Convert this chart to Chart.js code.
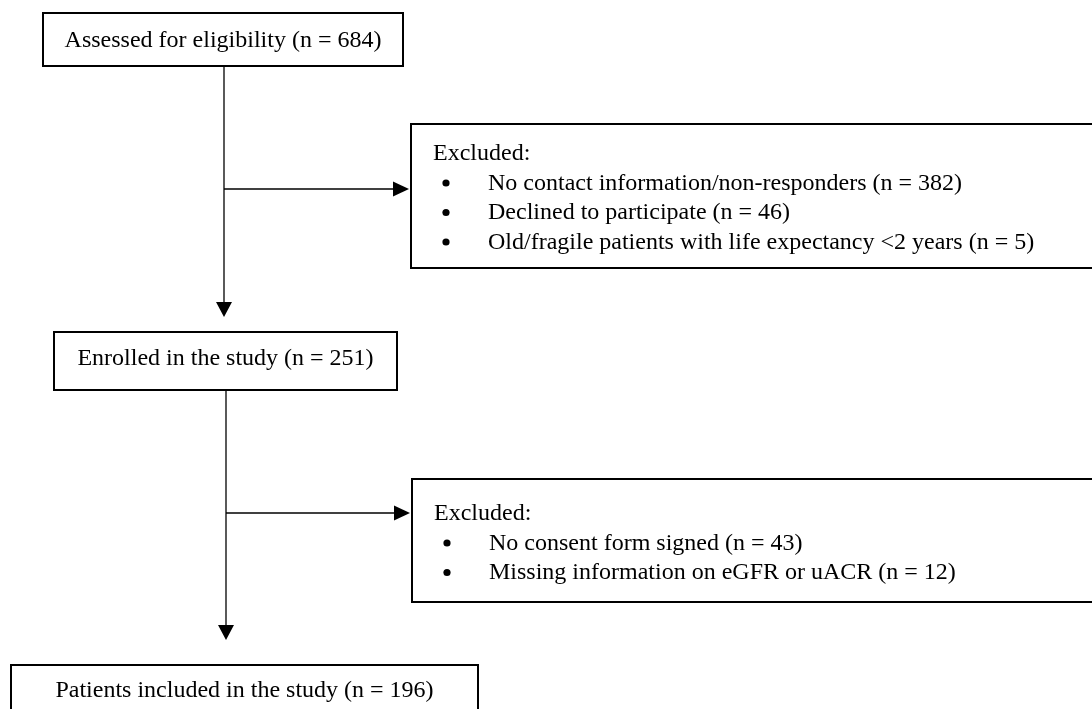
<!DOCTYPE html>
<html>
<head>
<meta charset="utf-8">
<script src="https://cdn.jsdelivr.net/npm/chart.js@4.4.1/dist/chart.umd.min.js"></script>
<style>
  html, body { margin: 0; padding: 0; background: #ffffff; }
  #wrap { width: 1092px; height: 709px; position: relative; }
</style>
</head>
<body>
<div id="wrap"><canvas id="c" width="1092" height="709"></canvas></div>
<script>
// ---- data ----
const stageLabels = ['Assessed for eligibility', 'Enrolled in the study', 'Patients included in the study'];
const stageCounts = [684, 251, 196];
const exclusionHeader = 'Excluded:';
const exclusion1Reasons = ['No contact information/non-responders', 'Declined to participate', 'Old/fragile patients with life expectancy <2 years'];
const exclusion1Counts = [382, 46, 5];
const exclusion2Reasons = ['No consent form signed', 'Missing information on eGFR or uACR'];
const exclusion2Counts = [43, 12];

// ---- layout (value space of hidden axes) ----
const stageBoxes = [
  { x0: 43, y0: 13, x1: 403, y1: 66, base: 47 },
  { x0: 54, y0: 332, x1: 397, y1: 390, base: 365 },
  { x0: 11, y0: 665, x1: 478, y1: 730, base: 697 }
];
const exclBoxes = [
  { x0: 411, y0: 124, x1: 1110, y1: 268, headBase: 160, lineGap: 29.5, arrowY: 189 },
  { x0: 412, y0: 479, x1: 1110, y1: 602, headBase: 520, lineGap: 29.5, arrowY: 513 }
];
const trunk = [
  { x: 224, from: 66, to: 317 },
  { x: 226, from: 390, to: 640 }
];

const fmt = (label, n) => `${label} (n = ${n})`;

const flowPlugin = {
  id: 'flow',
  afterDraw(chart) {
    const ctx = chart.ctx;
    const xs = chart.scales.x, ys = chart.scales.y;
    const X = v => xs.getPixelForValue(v);
    const Y = v => ys.getPixelForValue(v);
    ctx.save();
    ctx.fillStyle = '#000';
    ctx.strokeStyle = '#000';
    const font = '24px "Liberation Serif", "Times New Roman", serif';

    function box(b, lw) {
      ctx.lineWidth = lw;
      ctx.strokeRect(X(b.x0), Y(b.y0), X(b.x1) - X(b.x0), Y(b.y1) - Y(b.y0));
    }
    function arrowDown(x, y0, y1) {
      ctx.lineWidth = 1.3;
      ctx.beginPath();
      ctx.moveTo(X(x), Y(y0));
      ctx.lineTo(X(x), Y(y1) - 14);
      ctx.stroke();
      ctx.beginPath();
      ctx.moveTo(X(x), Y(y1));
      ctx.lineTo(X(x) - 8, Y(y1) - 15);
      ctx.lineTo(X(x) + 8, Y(y1) - 15);
      ctx.closePath();
      ctx.fill();
    }
    function arrowRight(x0, x1, y) {
      ctx.lineWidth = 1.3;
      ctx.beginPath();
      ctx.moveTo(X(x0), Y(y));
      ctx.lineTo(X(x1) - 14, Y(y));
      ctx.stroke();
      ctx.beginPath();
      ctx.moveTo(X(x1), Y(y));
      ctx.lineTo(X(x1) - 16, Y(y) - 7.5);
      ctx.lineTo(X(x1) - 16, Y(y) + 7.5);
      ctx.closePath();
      ctx.fill();
    }

    // stage boxes
    ctx.font = font;
    ctx.textAlign = 'center';
    ctx.textBaseline = 'alphabetic';
    stageBoxes.forEach((b, i) => {
      ctx.fillStyle = '#fff';
      ctx.fillRect(X(b.x0), Y(b.y0), X(b.x1) - X(b.x0), Y(b.y1) - Y(b.y0));
      ctx.fillStyle = '#000';
      box(b, 2);
      const cx = (X(b.x0) + X(b.x1)) / 2;
      ctx.fillText(fmt(stageLabels[i], stageCounts[i]), cx, Y(b.base));
    });

    // trunk arrows
    trunk.forEach(t => arrowDown(t.x, t.from, t.to));

    // exclusion boxes
    const exclReasons = [exclusion1Reasons, exclusion2Reasons];
    const exclCounts = [exclusion1Counts, exclusion2Counts];
    exclBoxes.forEach((b, k) => {
      box(b, 2);
      arrowRight(trunk[k].x, b.x0 - 2, b.arrowY);
      ctx.textAlign = 'left';
      ctx.font = font;
      ctx.fillText(exclusionHeader, X(b.x0) + 22, Y(b.headBase));
      exclReasons[k].forEach((r, j) => {
        const by = Y(b.headBase + b.lineGap * (j + 1));
        ctx.beginPath();
        ctx.arc(X(b.x0) + 35, by - 6.5, 3.6, 0, Math.PI * 2);
        ctx.fill();
        ctx.fillText(fmt(r, exclCounts[k][j]), X(b.x0) + 77, by);
      });
    });
    ctx.restore();
  }
};

new Chart(document.getElementById('c'), {
  type: 'scatter',
  data: { datasets: [{ label: 'flow', data: [], pointRadius: 0 }] },
  options: {
    responsive: false,
    animation: false,
    devicePixelRatio: 1,
    layout: { padding: 0 },
    plugins: { legend: { display: false }, tooltip: { enabled: false }, title: { display: false } },
    scales: {
      x: { type: 'linear', min: 0, max: 1092, display: false },
      y: { type: 'linear', min: 0, max: 709, reverse: true, display: false }
    }
  },
  plugins: [flowPlugin]
});
</script>
</body>
</html>
